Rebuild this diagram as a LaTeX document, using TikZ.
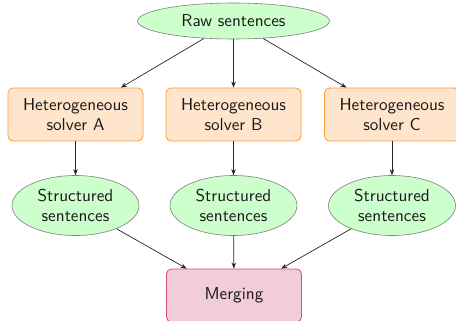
\documentclass[tikz,border=0pt]{standalone}
\usepackage{fontspec}
\newfontfamily\labfont{lmsans10-regular.otf}
\usetikzlibrary{shapes.geometric,arrows.meta}
\definecolor{ellfill}{HTML}{CCFFCC}
\definecolor{ellline}{HTML}{7F7F7F}
\definecolor{solfill}{HTML}{FFE5CC}
\definecolor{solline}{HTML}{FF9933}
\definecolor{merfill}{HTML}{F2CCD9}
\definecolor{merline}{HTML}{D24C79}
\tikzset{
  lab/.style={font=\labfont\fontsize{17.2}{20}\selectfont, align=center, text=black!90},
  ellnode/.style={lab, ellipse, draw=ellline, fill=ellfill, inner sep=0pt, line width=0.6pt},
  solbox/.style={lab, rectangle, rounded corners=5pt, draw=solline, fill=solfill, minimum width=135pt, minimum height=53pt, inner sep=0pt, line width=0.8pt},
  merbox/.style={lab, rectangle, rounded corners=5pt, draw=merline, fill=merfill, minimum width=135pt, minimum height=53pt, inner sep=0pt, line width=0.8pt},
  conn/.style={-{Stealth[length=6pt,width=4.5pt]}, line width=0.7pt, black!85}
}
\begin{document}
\begin{tikzpicture}[x=1pt,y=-1pt]
\useasboundingbox (0,0) rectangle (456,321);
\node[ellnode, minimum width=192pt, minimum height=36pt] (raw) at (233.5,21) {Raw sentences};
\node[solbox] (sa) at (75.5,114.5) {Heterogeneous\\solver A};
\node[solbox] (sb) at (233.5,114.5) {Heterogeneous\\solver B};
\node[solbox] (sc) at (392,114.5) {Heterogeneous\\solver C};
\node[ellnode, minimum width=127pt, minimum height=60pt] (ta) at (75.5,205.5) {Structured\\sentences};
\node[ellnode, minimum width=127pt, minimum height=60pt] (tb) at (233.5,205.5) {Structured\\sentences};
\node[ellnode, minimum width=127pt, minimum height=60pt] (tc) at (392,205.5) {Structured\\sentences};
\node[merbox] (mg) at (234,295.5) {Merging};
\draw[conn] (raw) -- (sa);
\draw[conn] (raw) -- (sb);
\draw[conn] (raw) -- (sc);
\draw[conn] (sa) -- (ta);
\draw[conn] (sb) -- (tb);
\draw[conn] (sc) -- (tc);
\draw[conn] (ta) -- (mg);
\draw[conn] (tb) -- (mg);
\draw[conn] (tc) -- (mg);
\end{tikzpicture}
\end{document}
